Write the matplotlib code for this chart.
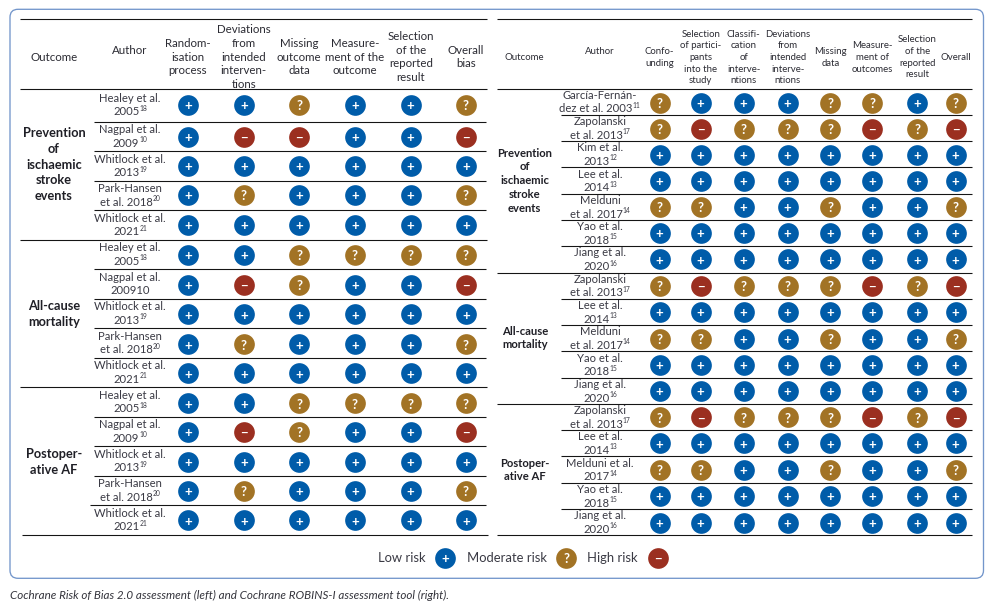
import matplotlib
matplotlib.use("Agg")
import matplotlib.pyplot as plt
from matplotlib.patches import FancyBboxPatch

# ---------- data ----------
left_headers = [["Outcome"], ["Author"], ["Random-", "isation", "process"],
                ["Deviations", "from", "intended", "interven-", "tions"],
                ["Missing", "outcome", "data"], ["Measure-", "ment of the", "outcome"],
                ["Selection", "of the", "reported", "result"], ["Overall", "bias"]]
right_headers = [["Outcome"], ["Author"], ["Confo-", "unding"],
                 ["Selection", "of partici-", "pants", "into the", "study"],
                 ["Classifi-", "cation", "of", "interve-", "ntions"],
                 ["Deviations", "from", "intended", "interve-", "ntions"],
                 ["Missing", "data"], ["Measure-", "ment of", "outcomes"],
                 ["Selection", "of the", "reported", "result"], ["Overall"]]

left_authors = [
    ("Healey et al.", "2005", "18"), ("Nagpal et al.", "2009", "10"), ("Whitlock et al.", "2013", "19"),
    ("Park-Hansen", "et al. 2018", "20"), ("Whitlock et al.", "2021", "21"),
    ("Healey et al.", "2005", "18"), ("Nagpal et al.", "200910", ""), ("Whitlock et al.", "2013", "19"),
    ("Park-Hansen", "et al. 2018", "20"), ("Whitlock et al.", "2021", "21"),
    ("Healey et al.", "2005", "18"), ("Nagpal et al.", "2009", "10"), ("Whitlock et al.", "2013", "19"),
    ("Park-Hansen", "et al. 2018", "20"), ("Whitlock et al.", "2021", "21")]
left_risk = ["++?++?", "+--++-", "++++++", "+?+++?", "++++++",
             "++????", "+-?++-", "++++++", "+?+++?", "++++++",
             "++????", "+-?++-", "++++++", "+?+++?", "++++++"]

right_authors = [
    ("García-Fernán-", "dez et al. 2003", "11"), ("Zapolanski", "et al. 2013", "17"), ("Kim et al.", "2013", "12"),
    ("Lee et al.", "2014", "13"), ("Melduni", "et al. 2017", "14"), ("Yao et al.", "2018", "15"), ("Jiang et al.", "2020", "16"),
    ("Zapolanski", "et al. 2013", "17"), ("Lee et al.", "2014", "13"), ("Melduni", "et al. 2017", "14"),
    ("Yao et al.", "2018", "15"), ("Jiang et al.", "2020", "16"),
    ("Zapolanski", "et al. 2013", "17"), ("Lee et al.", "2014", "13"), ("Melduni et al.", "2017", "14"),
    ("Yao et al.", "2018", "15"), ("Jiang et al.", "2020", "16")]
right_risk = ["?+++??+?", "?-???-?-", "++++++++", "++++++++", "??++?++?", "++++++++", "++++++++",
              "?-???-?-", "++++++++", "??++?++?", "++++++++", "++++++++",
              "?-???-?-", "++++++++", "??++?++?", "++++++++", "++++++++"]

outcomes_left = [["Prevention", "of", "ischaemic", "stroke", "events"], ["All-cause", "mortality"], ["Postoper-", "ative AF"]]
outcomes_right = outcomes_left
legend_labels = ["Low risk", "Moderate risk", "High risk"]
legend_keys = ["+", "?", "-"]
caption = "Cochrane Risk of Bias 2.0 assessment (left) and Cochrane ROBINS-I assessment tool (right)."

# ---------- layout (pixels) ----------
W, H = 992, 610
FONT = "Lato"
L_COLS = [188, 243.8, 299.3, 355, 410.7, 466]
R_COLS = [659.5, 700.7, 743.7, 787.7, 830.3, 872.3, 917.3, 955.7]
L_LINES = [88.5, 122.3, 151.3, 181.3, 210.3, 240.3, 269.3, 299.3, 328.3, 358.3, 387.3, 417.3, 446.3, 476.3, 505.3, 535.3]
R_LINES = [88.5, 115.3, 141.3, 167.3, 194.3, 220.3, 246.3, 272.5, 299.3, 325.3, 351.3, 378.3, 404.3, 430.3, 456.3, 483.3, 509.3, 535.3]
L_ROWS = [104.5, 136.5, 165.5, 195, 225, 254.7, 284.7, 314.3, 344.3, 373.3, 403.3, 431.7, 461.7, 491, 520.3]
R_ROWS = [102.5, 129, 155, 181, 207, 233, 259.3, 285.7, 312, 338.7, 364.7, 390.5, 417.3, 443.3, 469.7, 496, 523]
COLORS = {"+": "#005CA9", "?": "#A27325", "-": "#9B2F20"}
GLYPH = {"+": "+", "?": "?", "-": "\u2212"}
TXT = "#2b2b33"
AUTH = "#3a3a44"

fig = plt.figure(figsize=(W / 100, H / 100), dpi=100, facecolor="white")
ax = fig.add_axes([0, 0, 1, 1])
ax.set_xlim(0, W)
ax.set_ylim(H, 0)
ax.axis("off")
renderer = fig.canvas.get_renderer()

ax.add_patch(FancyBboxPatch((10, 9.3), 973.5, 569, boxstyle="round,pad=0,rounding_size=8",
                            fc="white", ec="#7396CB", lw=0.95))


def T(x, y, s, size, color=TXT, weight="normal", style="normal", ha="center", va="baseline"):
    return ax.text(x, y, s, fontsize=size, color=color, fontweight=weight, fontstyle=style,
                   family=FONT, ha=ha, va=va)


def stacked(x, cy, lines, size, gap, weight="normal", color=TXT, off=3.6):
    n = len(lines)
    for i, s in enumerate(lines):
        T(x, cy + (i - (n - 1) / 2) * gap + off, s, size, color, weight)


def author(cx, cy, a, size, b1, b2):
    T(cx, cy + b1, a[0], size, AUTH)
    main = T(cx, cy + b2, a[1], size, AUTH, ha="left")
    w = main.get_window_extent(renderer).width
    sw = 0
    if a[2]:
        sup = T(cx, cy + b2 - 4.5, a[2], size * 0.6, AUTH, ha="left")
        sw = sup.get_window_extent(renderer).width
        sup.set_x(cx - (w + sw) / 2 + w)
    main.set_x(cx - (w + sw) / 2)


def marks(cols, rows, risk, r=14.9):
    for key in COLORS:
        xs = [cols[j] for i, row in enumerate(risk) for j, c in enumerate(row) if c == key]
        ys = [rows[i] for i, row in enumerate(risk) for j, c in enumerate(row) if c == key]
        ax.scatter(xs, ys, s=r ** 2, c=COLORS[key], linewidths=0, zorder=3)
    for i, row in enumerate(risk):
        for j, c in enumerate(row):
            glyph(cols[j], rows[i], c)


def glyph(x, y, c):
    ax.text(x, y + (0.3 if c != "?" else 0.4), GLYPH[c], fontsize=9.5, color="white",
            fontweight="bold", family=FONT, ha="center", va="center_baseline", zorder=4)


def hlines(x0, x1, ys):
    for y in ys:
        ax.plot([x0, x1], [y, y], color="#151515", lw=0.78, solid_capstyle="butt", zorder=2)


# left table
hlines(20, 487, [19.3, 88.5, 240.3, 387.3])
hlines(94, 486, [y for y in L_LINES if y not in (88.5, 240.3, 387.3, 535.3, 505.3)])
hlines(90, 486, [505.3])
hlines(22, 488, [535.3])
L_HX = [54, 130] + L_COLS
for k, (x, lines) in enumerate(zip(L_HX, left_headers)):
    stacked(x, 50 if k == 1 else 57, lines, 8.25, 13.7)
L_BOUND = list(zip(L_LINES[:-1], L_LINES[1:]))
for (a, (t, b)) in zip(left_authors, L_BOUND):
    author(130, (t + b) / 2, a, 8.1, -3.5, 10)
marks(L_COLS, L_ROWS, left_risk)
for lines, cy in zip(outcomes_left, [164.7, 313.7, 461.7]):
    stacked(54, cy, lines, 9.2, 15.8, weight="bold", color="#1f1f26", off=4)

# right table
hlines(497, 972, [19.3, 88.5, 272.5, 404.3, 535.3])
hlines(561, 972, [y for y in R_LINES if y not in (88.5, 272.5, 404.3, 535.3)])
R_HX = [524.7, 600] + R_COLS
for k, (x, lines) in enumerate(zip(R_HX, right_headers)):
    stacked(x, 50.5 if k == 1 else 56.7, lines, 6.9, 11.6, off=3.2)
R_BOUND = list(zip(R_LINES[:-1], R_LINES[1:]))
for (a, (t, b)) in zip(right_authors, R_BOUND):
    author(600, (t + b) / 2, a, 8.1, -3, 10.6)
marks(R_COLS, R_ROWS, right_risk)
for lines, cy in zip(outcomes_right, [180.7, 338, 470]):
    stacked(524.7, cy, lines, 8.1, 13.8, weight="bold", color="#1f1f26", off=3.5)

# legend
LEG_TX = [378, 466.7, 587]
LEG_CX = [445.3, 566.3, 658]
LEG_Y = 557.7
for s, k, tx, cx in zip(legend_labels, legend_keys, LEG_TX, LEG_CX):
    T(tx, LEG_Y + 4.2, s, 9.35, AUTH, ha="left")
    ax.scatter([cx], [LEG_Y], s=14.9 ** 2, c=COLORS[k], linewidths=0, zorder=3)
    glyph(cx, LEG_Y, k)

T(10, 599, caption, 8.35, "#33333b", style="italic", ha="left")

fig.savefig("out.png", dpi=100, facecolor="white")
